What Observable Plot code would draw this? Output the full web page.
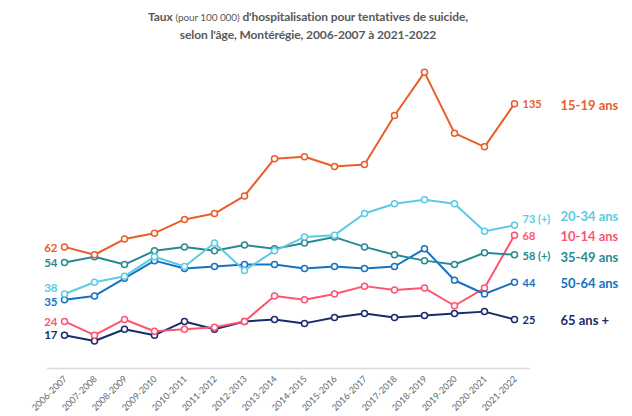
<!DOCTYPE html>
<html><head><meta charset="utf-8">
<script src="https://cdn.jsdelivr.net/npm/d3@7"></script>
<script src="https://cdn.jsdelivr.net/npm/@observablehq/plot@0.6"></script>
<style>
body{margin:0;background:#fff;font-family:Lato,sans-serif;}
#title{width:624px;height:45px;padding-top:8px;box-sizing:border-box;padding-right:8px;text-align:center;color:#595959;font-weight:bold;font-size:12px;line-height:18px;letter-spacing:-0.1px;}
#title .n{font-weight:normal;font-size:10px;}
</style></head>
<body>
<div id="title"><span>Taux <span class="n">(pour 100 000)</span> d'hospitalisation pour tentatives de suicide,</span><br><span>selon l'âge, Montérégie, 2006-2007 à 2021-2022</span></div>
<div id="chart"></div>
<script>
const periods = ["2006-2007","2007-2008","2008-2009","2009-2010","2010-2011","2011-2012","2012-2013","2013-2014","2014-2015","2015-2016","2016-2017","2017-2018","2018-2019","2019-2020","2020-2021","2021-2022"];
const names = ["15-19 ans","20-34 ans","10-14 ans","35-49 ans","50-64 ans","65 ans +"];
const s1519 = [62,58,66,69,76,79,88,107,108,103,104,129,151,120,113,135];
const s2034 = [38,44,47,57,52,64,50,60,67,68,79,84,86,84,70,73];
const s1014 = [24,17,25,19,20,21,24,37,35,38,42,40,41,32,41,68];
const s3549 = [54,57,53,60,62,60,63,61,64,67,62,58,55,53,59,58];
const s5064 = [35,37,46,55,51,52,53,53,51,52,51,52,61,45,38,44];
const s65   = [17,14,20,17,24,20,24,25,23,26,28,26,27,28,29,25];
const endTexts = ["135","73 (+)","68","58 (+)","44","25"];
const seriesValues = [s1519,s2034,s1014,s3549,s5064,s65];

// styles (colours and label nudges, in pixels)
const colors = ["#EA5D27","#5CCBE2","#FF5470","#278A91","#1672C2","#172D6B"];
const startDy = [1,-6,1,1,2,0];
const endDy = [1,-6,1,2,1,1];
const nameDy = [2,-8,2,3,2,1];
const drawOrder = [5,2,4,3,1,0];

const series = names.map((name,k)=>({name, color:colors[k], values:seriesValues[k],
  rows: periods.map((p,i)=>({period:p, value:seriesValues[k][i]}))}));

const marks = [Plot.ruleY([0],{stroke:"#dcdcdc",strokeWidth:1.5})];
for (const k of drawOrder) {
  const s = series[k];
  marks.push(Plot.lineY(s.rows,{x:"period",y:"value",stroke:s.color,strokeWidth:2}));
  marks.push(Plot.dot(s.rows,{x:"period",y:"value",r:3,fill:"white",stroke:s.color,strokeWidth:1.5}));
}
series.forEach((s,k)=>{
  const first = s.rows[0], last = s.rows[s.rows.length-1];
  marks.push(Plot.text([first],{x:"period",y:"value",text:d=>String(d.value),textAnchor:"end",dx:-7,dy:startDy[k],fill:s.color,fontSize:11.5,fontWeight:"bold"}));
  marks.push(Plot.text([last],{x:"period",y:"value",text:()=>endTexts[k],textAnchor:"start",dx:8,dy:endDy[k],fill:s.color,fontSize:11,fontWeight:"bold"}));
  marks.push(Plot.text([last],{x:"period",y:"value",text:()=>s.name,textAnchor:"start",dx:46,dy:nameDy[k],fill:s.color,fontSize:13,fontWeight:"bold"}));
});
marks.push(Plot.text(periods,{x:d=>d,y:0,text:d=>d,rotate:-45,textAnchor:"end",lineAnchor:"middle",dy:9,dx:1,fill:"#666666",fontSize:9}));

const chart = Plot.plot({
  width:632, height:371,
  marginLeft:47, marginRight:102, marginTop:19, marginBottom:48,
  x:{type:"point", domain:periods, range:[62,515], padding:0, axis:null},
  y:{domain:[0,155], axis:null},
  style:{fontFamily:"Lato, sans-serif", background:"white", overflow:"visible"},
  marks
});
document.getElementById("chart").appendChild(chart);
</script>
</body></html>
